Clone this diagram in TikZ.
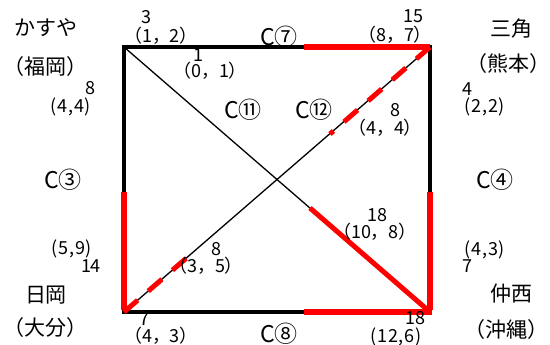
\documentclass[tikz,border=0pt]{standalone}
\usepackage{fontspec}
\setmainfont{Noto Sans CJK JP}
\begin{document}
\begin{tikzpicture}[x=1pt,y=-1pt,
  namelbl/.style={inner sep=0pt,font=\fontsize{21}{23}\selectfont},
  parenlbl/.style={inner sep=0pt,font=\fontsize{21}{23}\selectfont},
  numlbl/.style={inner sep=0pt,font=\fontsize{18}{20}\selectfont},
  tightlbl/.style={inner sep=0pt,font=\fontsize{18}{20}\selectfont\addfontfeature{LetterSpace=4}},
  clbl/.style={inner sep=0pt,font=\fontsize{23}{25}\selectfont},
  edge/.style={line width=4pt},
  diag/.style={line width=1.3pt},
  redseg/.style={red,line width=6pt},
  reddiag/.style={red,line width=5pt},
  reddash/.style={red,line width=5pt,dash pattern=on 18pt off 14pt}]
\useasboundingbox (0,0) rectangle (550,345);
% corners
\coordinate (TL) at (124,47);
\coordinate (TR) at (430,47);
\coordinate (BL) at (124,312);
\coordinate (BR) at (430,312);
% red segment ends
\coordinate (Tm) at (304,47);
\coordinate (Bm) at (304,312);
\coordinate (Lm) at (124,192);
\coordinate (Rm) at (430,192);
\coordinate (Dm) at (310,208);
\coordinate (Ua) at (330,134);
\coordinate (Ub) at (190,255);
% square
\draw[edge] (TL) -- (TR) -- (BR) -- (BL) -- cycle;
% diagonals
\draw[diag] (TL) -- (BR);
\draw[diag] (BL) -- (TR);
% red
\draw[redseg] (Tm) -- (TR);
\draw[redseg] (Bm) -- ([xshift=2pt]BR);
\draw[redseg] (Lm) -- ([yshift=2pt]BL);
\draw[redseg] (Rm) -- ([yshift=2pt]BR);
\draw[reddiag] (Dm) -- (BR);
\draw[reddash] (TR) -- (Ua);
\draw[reddash] (BL) -- (Ub);
% place names
\node[namelbl] (kasuya) at (46,28) {かすや};
\node[parenlbl] (fukuoka) at (46,67) {（福岡）};
\node[namelbl] (misumi) at (511,29) {三角};
\node[parenlbl] (kumamoto) at (508,64) {（熊本）};
\node[namelbl] (hioka) at (46,295) {日岡};
\node[parenlbl] (oita) at (46,328) {（大分）};
\node[namelbl] (nakanishi) at (511,294) {仲西};
\node[parenlbl] (okinawa) at (506,330) {（沖縄）};
% C labels
\node[clbl] (c7) at (279,37) {C⑦};
\node[clbl] (c8) at (279,334) {C⑧};
\node[clbl] (c3) at (63,180) {C③};
\node[clbl] (c4) at (495,180) {C④};
\node[clbl] (c11) at (243,110) {C⑪};
\node[clbl] (c12) at (314,110) {C⑫};
% numbers
\node[numlbl] (n3) at (146,17) {3};
\node[numlbl] (p12) at (161,36) {（1，2）};
\node[numlbl] (n1) at (198,55) {1};
\node[numlbl] (p01) at (210,71) {（0，1）};
\node[numlbl] (n8a) at (90,88) {8};
\node[tightlbl] (p44a) at (71,107) {(4,4)};
\node[numlbl] (n15) at (413,16) {15};
\node[numlbl] (p87) at (395,35) {（8，7）};
\node[numlbl] (n4) at (467,89) {4};
\node[tightlbl] (p22) at (485,107) {(2,2)};
\node[numlbl] (n8b) at (395,110) {8};
\node[numlbl] (p44b) at (385,128) {（4，4）};
\node[tightlbl] (p59) at (72,249) {(5,9)};
\node[numlbl] (n14) at (91,266) {14};
\node[numlbl] (n8c) at (216,249) {8};
\node[numlbl] (p35) at (206,266) {（3，5）};
\node[numlbl] (n18a) at (377,215) {18};
\node[numlbl] (p108) at (375,232) {（10，8）};
\node[tightlbl] (p43b) at (485,250) {(4,3)};
\node[numlbl] (n7b) at (467,266) {7};
\node[numlbl] (n7a) at (144,319) {7};
\node[numlbl] (p43a) at (161,336) {（4，3）};
\node[numlbl] (n18b) at (415,318) {18};
\node[tightlbl] (p126) at (396,337) {(12,6)};
\end{tikzpicture}
\end{document}
